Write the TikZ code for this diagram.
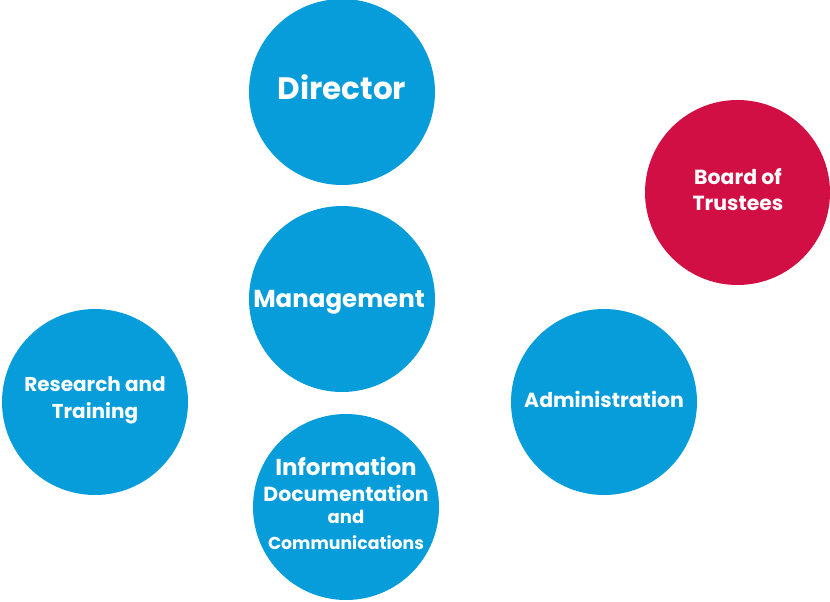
\documentclass[tikz,border=0pt]{standalone}
\usepackage{fontspec}
\setmainfont{Poppins}[BoldFont={Poppins Bold}]
\definecolor{cblue}{HTML}{079DDB}
\definecolor{cred}{HTML}{D20F45}
\newcommand{\fs}[1]{\bfseries\fontsize{#1}{1.2\dimexpr#1pt\relax}\selectfont}
\begin{document}
\begin{tikzpicture}[x=1pt,y=-1pt,
  disc/.style={circle,fill=cblue,minimum size=186pt,inner sep=0pt},
  lbl/.style={text=white,inner sep=0pt,align=center}]
\useasboundingbox (0,0) rectangle (830,602);
\node[disc] (dir) at (342,92) {};
\node[disc,fill=cred,minimum size=185pt] (bot) at (737.5,192.5) {};
\node[disc] (man) at (342,299) {};
\node[disc] (res) at (95,402) {};
\node[disc] (adm) at (604,402) {};
\node[disc] (inf) at (346,507) {};
\node[lbl,font=\fs{31}] (tdir) at (342,87) {Director};
\node[lbl,font=\fs{24.5}] (tman) at (339,302) {Management};
\node[lbl,font=\fs{20.4}\fontsize{20.4}{26}\selectfont] (tbot) at (738,190) {Board of\\Trustees};
\node[lbl,font=\fs{20}\fontsize{20}{27}\selectfont] (tres) at (95,400.5) {Research and\\Training};
\node[lbl,font=\fs{20.4}] (tadm) at (604,399) {Administration};
\node[lbl,font=\fs{23}] (t1) at (346,466) {Information};
\node[lbl,font=\fs{20.4}] (t2) at (346,493) {Documentation};
\node[lbl,font=\fs{18}] (t3) at (346,517) {and};
\node[lbl,font=\fs{17.3}] (t4) at (346,543) {Communications};
\end{tikzpicture}
\end{document}
